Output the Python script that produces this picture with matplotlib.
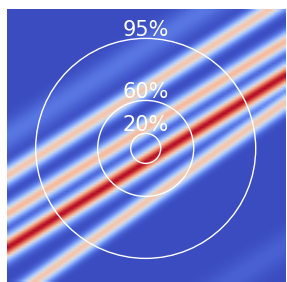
import numpy as np
import matplotlib
matplotlib.use("Agg")
import matplotlib.pyplot as plt
from matplotlib.patches import Circle

# размер картинки в пикселях изображения
img_w = 279
img_h = 273
n_cols = 100
n_rows = 98

# полосы: положение по y у левого и правого края, высота пика, ширина
stripe_left_y = [167, 205, 239, 292, 128, 416]
stripe_right_y = [-10, 32, 66, 93, -52, 236]
stripe_peak = [0.63, 0.67, 1.0, 0.63, 0.1, 0.05]
stripe_sigma = [6.5, 6.5, 8.0, 6.5, 11.0, 12.0]

# окружности и подписи
circle_center = (138.7, 139.4)
circle_radius = [15, 48, 110]
circle_labels = ["20%", "60%", "95%"]

xs = (np.arange(n_cols) + 0.5) * img_w / n_cols
ys = (np.arange(n_rows) + 0.5) * img_h / n_rows
X, Y = np.meshgrid(xs, ys)

field = np.zeros_like(X)
for yl, yr, peak, sig in zip(stripe_left_y, stripe_right_y, stripe_peak, stripe_sigma):
    line_y = yl + (yr - yl) * X / img_w
    field = np.maximum(field, peak * np.exp(-0.5 * ((Y - line_y) / sig) ** 2))

fig = plt.figure(figsize=(2.87, 2.82), dpi=100)
ax = fig.add_axes([7 / 287, 0, img_w / 287, img_h / 282])
ax.imshow(field, cmap="coolwarm", vmin=0, vmax=1, extent=[0, img_w, img_h, 0],
          interpolation="bilinear", aspect="auto")

for r, lab in zip(circle_radius, circle_labels):
    ax.add_patch(Circle(circle_center, r, fill=False, color="white", lw=1.0))
    ax.text(circle_center[0], circle_center[1] - r - 2.5, lab, color="white",
            fontsize=15, ha="center", va="baseline")

ax.set_xlim(0, img_w)
ax.set_ylim(img_h, 0)
ax.axis("off")
fig.savefig("out.png", dpi=100)
